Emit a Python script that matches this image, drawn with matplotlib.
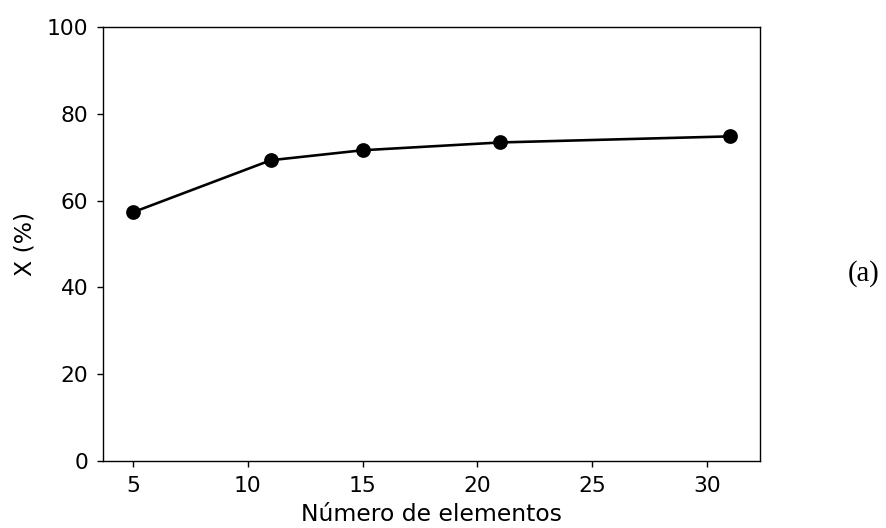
import matplotlib
matplotlib.use("Agg")
import matplotlib.pyplot as plt

elementos = [5, 11, 15, 21, 31]
x_pct = [57.3, 69.3, 71.6, 73.4, 74.8]
xticks = [5, 10, 15, 20, 25, 30]
yticks = [0, 20, 40, 60, 80, 100]

DPI = 125
fig = plt.figure(figsize=(886/DPI, 528/DPI), dpi=DPI)
ax = fig.add_axes([103/886, 1 - 461/528, (760-103)/886, (461-27)/528])
ax.plot(elementos, x_pct, color="black", marker="o", markersize=7.5, linewidth=1.5)
ax.set_ylim(0, 100)
ax.set_xticks(xticks)
ax.set_yticks(yticks)
ax.tick_params(labelsize=12.5, pad=5)
ax.set_xlabel("Número de elementos", fontsize=13.5, labelpad=4)
ax.set_ylabel("X (%)", fontsize=13.5, labelpad=6)
fig.text(864/886, 1 - 274/528, "(a)", family="Liberation Serif", fontsize=16.5, ha="center", va="center")
fig.savefig("out.png", dpi=DPI)
